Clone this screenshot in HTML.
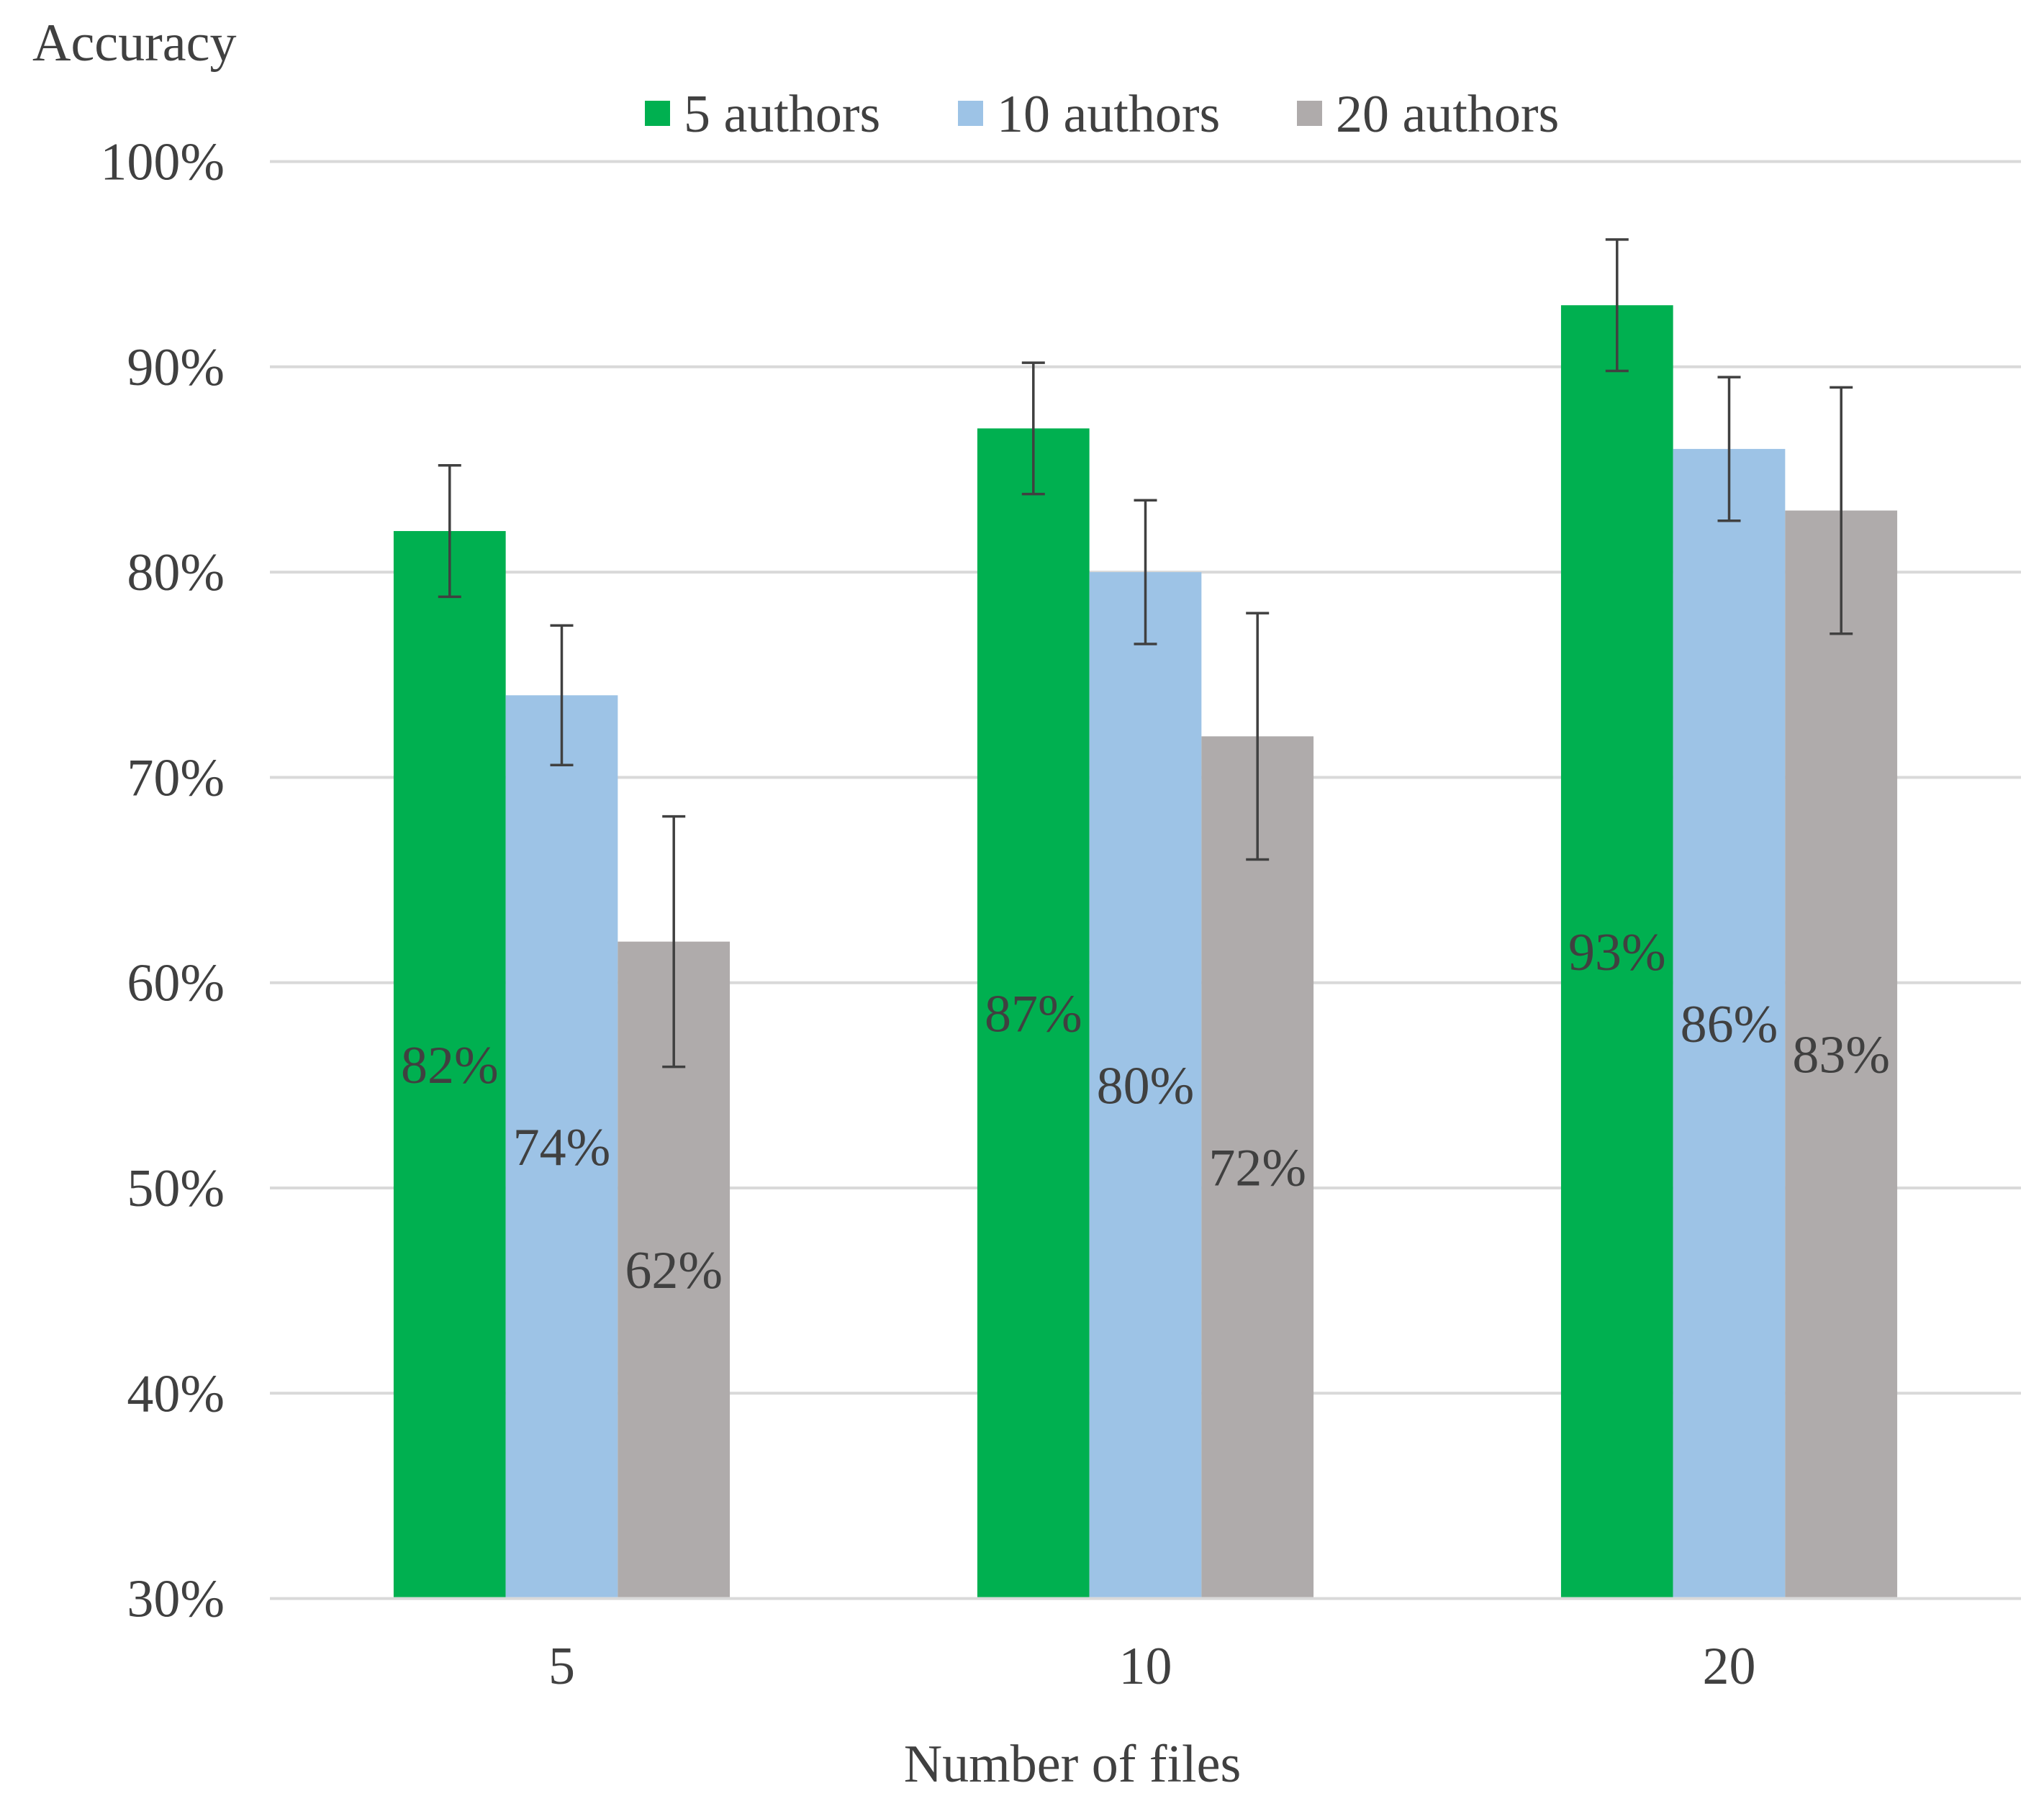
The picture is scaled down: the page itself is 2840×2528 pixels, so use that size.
<!DOCTYPE html>
<html><head><meta charset="utf-8"><style>
html,body{margin:0;padding:0;background:#fff;}
svg{display:block;font-family:"Liberation Serif",serif;}
</style></head><body>
<svg id="chart" width="2840" height="2528" viewBox="0 0 2840 2528">
<g id="grid"></g>
<g id="yticks"></g>
<g id="bars"></g>
<g id="errs"></g>
<g id="labels"></g>
<g id="xticks"></g>
<text x="45" y="84" font-size="74" fill="#404040">Accuracy</text>
<text x="1490" y="2476" font-size="74" fill="#404040" text-anchor="middle">Number of files</text>
<g id="legend"></g>
</svg>
<script>
const categories = ["5", "10", "20"];
const seriesNames = ["5 authors", "10 authors", "20 authors"];
const seriesColors = ["#00b050", "#9dc3e6", "#afabab"];
const s5 = [82, 74, 62];
const s10 = [87, 80, 72];
const s20 = [93, 86, 83];
const e5 = [3.2, 3.4, 6.1];
const e10 = [3.2, 3.5, 6.0];
const e20 = [3.2, 3.5, 6.0];
const yTicks = [30, 40, 50, 60, 70, 80, 90, 100];
const values = [s5, s10, s20];
const errors = [e5, e10, e20];

const NS = "http://www.w3.org/2000/svg";
const X0 = 375, X1 = 2808, YTOP = 224.5, YBOT = 2221.6, YMIN = 30, YMAX = 100;
const y = v => YBOT - (v - YMIN) / (YMAX - YMIN) * (YBOT - YTOP);
const catW = (X1 - X0) / categories.length;
const barW = catW * 0.192;
const xc = i => X0 + catW * (i + 0.5);
function mk(tag, attrs, parent) {
  const e = document.createElementNS(NS, tag);
  for (const k in attrs) e.setAttribute(k, attrs[k]);
  parent.appendChild(e);
  return e;
}
const G = id => document.getElementById(id);

yTicks.forEach(t => {
  const l = mk("line", {x1: X0, x2: X1, y1: y(t), y2: y(t), stroke: "#d9d9d9", "stroke-width": 4}, G("grid"));
  
  
  const tx = mk("text", {x: 312, y: y(t) + 25, "font-size": 74, fill: "#404040", "text-anchor": "end"}, G("yticks"));
  tx.textContent = t + "%";
  
  
});

categories.forEach((c, i) => {
  const tx = mk("text", {x: xc(i), y: 2340, "font-size": 74, fill: "#404040", "text-anchor": "middle"}, G("xticks"));
  tx.textContent = c;
  
  
  values[i].forEach((v, s) => {
    const bx = xc(i) + (s - 1.5) * barW;
    const r = mk("rect", {x: bx, y: y(v), width: barW, height: YBOT - y(v) - 2, fill: seriesColors[s]}, G("bars"));
    
    
    const cx = bx + barW / 2, er = errors[i][s];
    const eg = mk("g", {stroke: "#404040", "stroke-width": 3.5}, G("errs"));
    
    
    mk("line", {x1: cx, x2: cx, y1: y(v + er), y2: y(v - er)}, eg);
    mk("line", {x1: cx - 16, x2: cx + 16, y1: y(v + er), y2: y(v + er)}, eg);
    mk("line", {x1: cx - 16, x2: cx + 16, y1: y(v - er), y2: y(v - er)}, eg);
    const lb = mk("text", {x: cx, y: y((v + YMIN) / 2) + 25, "font-size": 74, fill: "#404040", "text-anchor": "middle"}, G("labels"));
    lb.textContent = v + "%";
    
    
  });
});

const legX = [896, 1331, 1802];
seriesNames.forEach((n, s) => {
  const g = mk("g", {}, G("legend"));
  
  
  mk("rect", {x: legX[s], y: 140, width: 35, height: 35, fill: seriesColors[s]}, g);
  const t = mk("text", {x: legX[s] + 54, y: 183, "font-size": 74, fill: "#404040"}, g);
  t.textContent = n;
});
</script>
</body></html>
